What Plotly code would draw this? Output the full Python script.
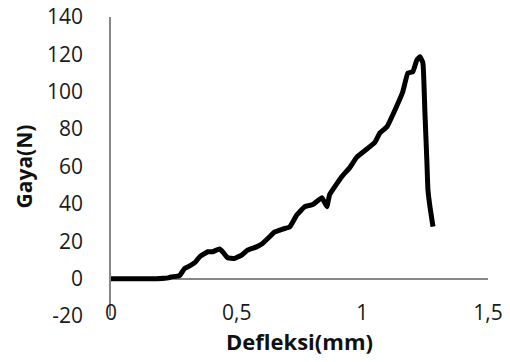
import plotly.graph_objects as go

defleksi = [0, 0.181, 0.233, 0.233, 0.273, 0.293, 0.313, 0.333, 0.353, 0.365, 0.385, 0.404,
            0.432, 0.444, 0.464, 0.492, 0.520, 0.543, 0.579, 0.603, 0.631, 0.651, 0.683, 0.711,
            0.739, 0.771, 0.803, 0.839, 0.859, 0.870, 0.918, 0.950, 0.978, 1.030, 1.050, 1.070,
            1.098, 1.129, 1.161, 1.181, 1.201, 1.217, 1.229, 1.241, 1.249, 1.257, 1.261, 1.269, 1.281]
gaya = [0, 0, 0.5, 0.8, 1.6, 5.5, 6.8, 8.5, 11.7, 12.8, 14.4, 14.4,
        15.9, 14.4, 11.2, 10.8, 12.6, 15.2, 17, 18.8, 22.4, 25, 26.5, 27.7,
        34, 38.5, 39.6, 43.3, 38.5, 45, 54.5, 59.4, 65, 70.6, 73, 78,
        81.3, 90, 100, 110, 110.7, 117, 118.7, 115.5, 88.8, 62, 47.6, 38.5, 27.8]

x_ticks = [0, 0.5, 1, 1.5]
x_tick_labels = ["0", "0,5", "1", "1,5"]
y_ticks = [-20, 0, 20, 40, 60, 80, 100, 120, 140]
y_tick_labels = ["-20", "0", "20", "40", "60", "80", "100", "120", "140"]

font_family = "'Open Sans', Lato, sans-serif"

fig = go.Figure()
fig.add_trace(go.Scatter(
    x=defleksi, y=gaya, mode="lines",
    line=dict(color="black", width=5, shape="spline", smoothing=0.3),
    showlegend=False,
))

fig.update_layout(
    width=510, height=362,
    margin=dict(l=111, r=22, t=17, b=46),
    paper_bgcolor="white", plot_bgcolor="white",
    font=dict(family=font_family, size=21, color="#1a1a1a"),
    xaxis=dict(
        range=[0, 1.5], tickvals=x_ticks, ticktext=x_tick_labels,
        showgrid=False, zeroline=False, showline=False, ticks="",
        ticklabelstandoff=-18, automargin=False,
        title=dict(text="<b>Defleksi(mm)</b>", standoff=0, font=dict(size=22, color="#111111")),
    ),
    yaxis=dict(
        range=[-20, 140], tickvals=y_ticks, ticktext=y_tick_labels,
        showgrid=False, zeroline=True, zerolinecolor="#868686", zerolinewidth=1.5,
        showline=True, linecolor="#868686", linewidth=1.5, ticks="",
        ticklabelstandoff=22, automargin=False,
        title=dict(text="<b>Gaya(N)</b>", standoff=9, font=dict(size=21, color="#111111")),
    ),
)

fig.write_html("out.html", config={"displayModeBar": False},
               post_script="document.body.style.margin='0';")
